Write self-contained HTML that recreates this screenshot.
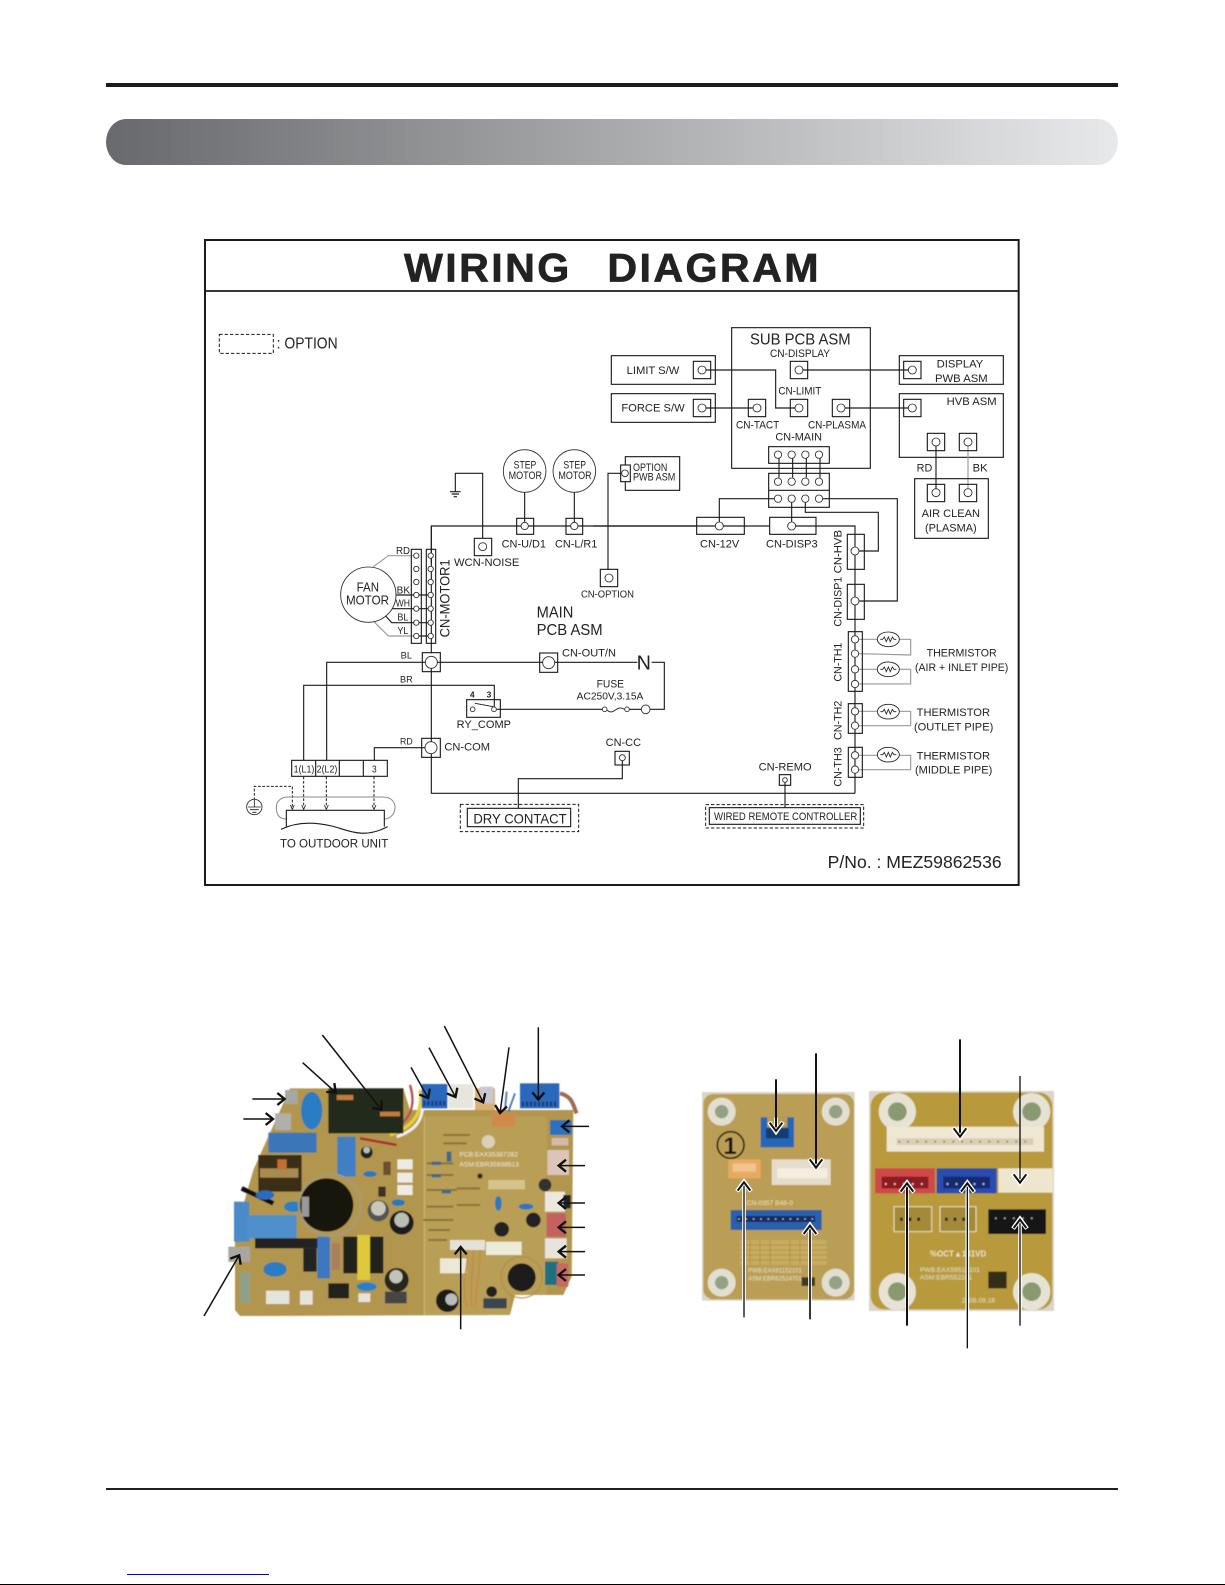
<!DOCTYPE html>
<html><head><meta charset="utf-8"><title>Wiring Diagram</title>
<style>
html,body{margin:0;padding:0;background:#fff;width:1225px;height:1585px;overflow:hidden}
svg{display:block;position:absolute;left:0;top:0}
text{font-family:"Liberation Sans",sans-serif;fill:#222}
.l{fill:none;stroke:#1c1c1c;stroke-width:3.4}
.g{fill:none;stroke:#999;stroke-width:3.4}
.c{fill:#fff;stroke:#2a2a2a;stroke-width:2.6}
.d{fill:none;stroke:#1c1c1c;stroke-width:3;stroke-dasharray:10 6}
</style></head><body>
<svg width="1225" height="1585" viewBox="0 0 1225 1585" xmlns="http://www.w3.org/2000/svg">
<defs>
<linearGradient id="band" x1="0" x2="1" y1="0" y2="0"><stop offset="0" stop-color="#68696c"/><stop offset="1" stop-color="#e8e9eb"/></linearGradient>
<filter id="soft" x="-2%" y="-2%" width="104%" height="104%"><feGaussianBlur stdDeviation="1.6"/></filter>
<marker id="ah" markerUnits="userSpaceOnUse" markerWidth="50" markerHeight="50" refX="34" refY="25" orient="auto"><path d="M11,7 L33,25 L11,43" fill="none" stroke="#111" stroke-width="7"/></marker>
<marker id="ah2" markerUnits="userSpaceOnUse" markerWidth="60" markerHeight="60" refX="42" refY="30" orient="auto"><path d="M13,9 L42,30 L13,51" fill="none" stroke="#fff" stroke-width="13"/><path d="M15,11 L40,30 L15,49" fill="none" stroke="#111" stroke-width="6"/></marker>
<g id="th"><ellipse cx="0" cy="0" rx="33" ry="22" fill="#fff" stroke="#222" stroke-width="2.6"/><polyline points="-24,0 -17,0 -12,-7 -6,7 0,-7 6,7 12,-7 17,0 24,0" fill="none" stroke="#222" stroke-width="2.6"/></g>
</defs>

<rect x="106" y="83" width="1012" height="4" fill="#1c1a1b"/>
<rect x="106" y="119" width="1012" height="46" rx="20" ry="23" fill="url(#band)"/>
<rect x="106" y="1488" width="1012" height="2" fill="#231f20"/>
<rect x="127" y="1574" width="142" height="1" fill="#0000e0"/>
<rect x="0" y="1584" width="1225" height="1" fill="#000"/>

<g transform="translate(200 230) scale(.33333)">
<!-- frame -->
<rect x="15" y="30" width="2441" height="1935" fill="none" stroke="#1c1a1b" stroke-width="6"/>
<line x1="15" y1="183" x2="2456" y2="183" stroke="#1c1a1b" stroke-width="5"/>
<text transform="translate(612 155) scale(1.03 1)" font-size="120" font-weight="700" letter-spacing="7" stroke="#222" stroke-width="2">WIRING</text>
<text transform="translate(1222 155) scale(1.03 1)" font-size="120" font-weight="700" letter-spacing="7" stroke="#222" stroke-width="2">DIAGRAM</text>

<!-- group A -->
<rect x="58" y="313" width="162" height="57" class="d"/>
<text x="230" y="355" font-size="46" textLength="183" lengthAdjust="spacingAndGlyphs">: OPTION</text>
<polyline class="l" points="848,925 848,730 766,730 766,785"/>
<path class="l" d="M750,785H782M755,792H777M761,800H771"/>
<line class="l" x1="974" y1="787" x2="974" y2="877"/>
<line class="l" x1="1123" y1="787" x2="1123" y2="877"/>
<circle class="c" cx="974" cy="723" r="64"/><circle class="c" cx="1123" cy="723" r="64"/>
<text x="941" y="715" font-size="33" textLength="68" lengthAdjust="spacingAndGlyphs">STEP</text>
<text x="926" y="747" font-size="33" textLength="100" lengthAdjust="spacingAndGlyphs">MOTOR</text>
<text x="1090" y="715" font-size="33" textLength="68" lengthAdjust="spacingAndGlyphs">STEP</text>
<text x="1075" y="747" font-size="33" textLength="100" lengthAdjust="spacingAndGlyphs">MOTOR</text>
<polyline class="l" points="694,1000 694,888 1490,888"/>
<rect class="l" x="950" y="865" width="51" height="48"/>
<rect class="l" x="1098" y="865" width="50" height="48"/>
<circle class="c" cx="974" cy="888" r="11"/><circle class="c" cx="1123" cy="888" r="11"/>
<text x="905" y="953" font-size="32" textLength="133" lengthAdjust="spacingAndGlyphs">CN-U/D1</text>
<text x="1065" y="953" font-size="32" textLength="127" lengthAdjust="spacingAndGlyphs">CN-L/R1</text>

<!-- group B -->
<g transform="translate(1200 0)">
<polyline class="l" points="-20,888 346,888"/>
<rect class="l" x="290" y="862" width="143" height="51"/>
<polyline class="l" points="370,888 510,888"/>
<rect class="l" x="509" y="862" width="139" height="51"/>
<polyline class="l" points="588,888 765,888 765,950"/>
<text x="300" y="953" font-size="33" textLength="118" lengthAdjust="spacingAndGlyphs">CN-12V</text>
<text x="498" y="953" font-size="33" textLength="155" lengthAdjust="spacingAndGlyphs">CN-DISP3</text>
<!-- option -->
<polyline class="l" points="62,730 24,730 24,1020"/>
<rect class="l" x="76" y="680" width="163" height="101"/>
<rect x="62" y="705" width="29" height="50" fill="#fff" stroke="#1c1c1c" stroke-width="3.4"/>
<circle class="c" cx="75" cy="730" r="10"/>
<text x="99" y="723" font-size="33" textLength="103" lengthAdjust="spacingAndGlyphs">OPTION</text>
<text x="99" y="752" font-size="33" textLength="127" lengthAdjust="spacingAndGlyphs">PWB ASM</text>
<!-- sub pcb -->
<rect class="l" x="395" y="293" width="416" height="422"/>
<text x="450" y="344" font-size="46" textLength="302" lengthAdjust="spacingAndGlyphs">SUB PCB ASM</text>
<text x="510" y="381" font-size="33" textLength="180" lengthAdjust="spacingAndGlyphs">CN-DISPLAY</text>
<rect class="l" x="34" y="377" width="312" height="86"/>
<rect class="l" x="34" y="491" width="312" height="86"/>
<text x="80" y="432" font-size="33" textLength="158" lengthAdjust="spacingAndGlyphs">LIMIT S/W</text>
<text x="64" y="545" font-size="33" textLength="190" lengthAdjust="spacingAndGlyphs">FORCE S/W</text>
<polyline class="l" points="318,420 527,420 527,534 585,534"/>
<line class="l" x1="318" y1="534" x2="458" y2="534"/>
<line class="l" x1="609" y1="420" x2="925" y2="420"/>
<line class="l" x1="735" y1="534" x2="925" y2="534"/>
<rect class="l" x="280" y="394" width="52" height="52"/><circle class="c" cx="306" cy="420" r="12"/>
<rect class="l" x="280" y="508" width="52" height="52"/><circle class="c" cx="306" cy="534" r="12"/>
<rect class="l" x="571" y="394" width="52" height="52"/><circle class="c" cx="597" cy="420" r="12"/>
<rect class="l" x="571" y="508" width="52" height="52"/><circle class="c" cx="597" cy="534" r="12"/>
<rect class="l" x="445" y="508" width="52" height="52"/><circle class="c" cx="471" cy="534" r="12"/>
<rect class="l" x="697" y="508" width="52" height="52"/><circle class="c" cx="723" cy="534" r="12"/>
<text x="535" y="494" font-size="33" textLength="129" lengthAdjust="spacingAndGlyphs">CN-LIMIT</text>
<text x="408" y="595" font-size="33" textLength="130" lengthAdjust="spacingAndGlyphs">CN-TACT</text>
<text x="624" y="595" font-size="33" textLength="174" lengthAdjust="spacingAndGlyphs">CN-PLASMA</text>
<text x="526" y="632" font-size="33" textLength="140" lengthAdjust="spacingAndGlyphs">CN-MAIN</text>
<!-- display/hvb -->
<rect class="l" x="898" y="377" width="312" height="86"/>
<rect class="l" x="898" y="491" width="312" height="191"/>
<rect class="l" x="911" y="394" width="52" height="52"/><circle class="c" cx="937" cy="420" r="12"/>
<rect class="l" x="911" y="508" width="52" height="52"/><circle class="c" cx="937" cy="534" r="12"/>
<text x="1010" y="413" font-size="33" textLength="140" lengthAdjust="spacingAndGlyphs">DISPLAY</text>
<text x="1005" y="456" font-size="33" textLength="158" lengthAdjust="spacingAndGlyphs">PWB ASM</text>
<text x="1040" y="525" font-size="33" textLength="150" lengthAdjust="spacingAndGlyphs">HVB ASM</text>
<line class="l" x1="1008" y1="648" x2="1008" y2="776"/>
<line class="g" x1="1104" y1="648" x2="1104" y2="776"/>
<rect class="l" x="982" y="610" width="52" height="52"/><circle class="c" cx="1008" cy="636" r="12"/>
<rect class="l" x="1078" y="610" width="52" height="52"/><circle class="c" cx="1104" cy="636" r="12"/>
<text x="950" y="724" font-size="33" textLength="47" lengthAdjust="spacingAndGlyphs">RD</text>
<text x="1118" y="724" font-size="33" textLength="45" lengthAdjust="spacingAndGlyphs">BK</text>
<rect class="l" x="944" y="746" width="221" height="179"/>
<rect class="l" x="982" y="763" width="52" height="52"/><circle class="c" cx="1008" cy="788" r="12"/>
<rect class="l" x="1078" y="763" width="52" height="52"/><circle class="c" cx="1104" cy="788" r="12"/>
<text x="965" y="861" font-size="33" textLength="175" lengthAdjust="spacingAndGlyphs">AIR CLEAN</text>
<text x="975" y="905" font-size="33" textLength="155" lengthAdjust="spacingAndGlyphs">(PLASMA)</text>
<!-- main connectors -->
<path class="l" d="M537,685V743M578,685V743M619,685V743M660,685V743"/>
<rect class="l" x="506" y="650" width="182" height="50"/>
<rect class="l" x="506" y="730" width="182" height="102"/>
<line class="l" x1="506" y1="781" x2="688" y2="781"/>
<polyline class="l" points="522,806 358,806 358,876"/>
<line class="l" x1="575" y1="818" x2="575" y2="876"/>
<polyline class="l" points="616,818 616,847 835,847 835,963 777,963"/>
<polyline class="l" points="669,806 892,806 892,1113 778,1113"/>
<g>
<circle class="c" cx="534" cy="674" r="11"/><circle class="c" cx="575" cy="674" r="11"/><circle class="c" cx="616" cy="674" r="11"/><circle class="c" cx="657" cy="674" r="11"/>
<circle class="c" cx="534" cy="755" r="11"/><circle class="c" cx="575" cy="755" r="11"/><circle class="c" cx="616" cy="755" r="11"/><circle class="c" cx="657" cy="755" r="11"/>
<circle class="c" cx="534" cy="806" r="11"/><circle class="c" cx="575" cy="806" r="11"/><circle class="c" cx="616" cy="806" r="11"/><circle class="c" cx="657" cy="806" r="11"/>
</g>
<circle class="c" cx="358" cy="888" r="12"/>
<circle class="c" cx="575" cy="888" r="12"/>
</g>

<!-- group C -->
<g transform="translate(0 960)">
<line class="l" x1="694" y1="-72" x2="694" y2="310"/>
<path class="g" d="M520,50L565,17H640M565,258L522,215M565,258H640"/>
<path class="l" d="M583,135H684M575,176H684M550,190L575,218H684M640,258H684"/>
<rect class="l" x="634" y="-2" width="30" height="282"/>
<rect class="l" x="679" y="-2" width="28" height="282"/>
<g>
<circle class="c" cx="649" cy="17" r="8"/><circle class="c" cx="649" cy="57" r="8"/><circle class="c" cx="649" cy="96" r="8"/><circle class="c" cx="649" cy="135" r="8"/><circle class="c" cx="649" cy="176" r="8"/><circle class="c" cx="649" cy="218" r="8"/><circle class="c" cx="649" cy="258" r="8"/>
<circle class="c" cx="692" cy="17" r="8"/><circle class="c" cx="692" cy="57" r="8"/><circle class="c" cx="692" cy="96" r="8"/><circle class="c" cx="692" cy="135" r="8"/><circle class="c" cx="692" cy="176" r="8"/><circle class="c" cx="692" cy="218" r="8"/><circle class="c" cx="692" cy="258" r="8"/>
</g>
<circle cx="505" cy="134" r="83" fill="#fff" stroke="#2a2a2a" stroke-width="2.6"/>
<text x="470" y="124" font-size="38" textLength="67" lengthAdjust="spacingAndGlyphs">FAN</text>
<text x="438" y="163" font-size="38" textLength="129" lengthAdjust="spacingAndGlyphs">MOTOR</text>
<text x="588" y="12" font-size="30" textLength="42" lengthAdjust="spacingAndGlyphs">RD</text>
<text x="590" y="130" font-size="30" textLength="40" lengthAdjust="spacingAndGlyphs">BK</text>
<text x="587" y="170" font-size="30" textLength="43" lengthAdjust="spacingAndGlyphs">WH</text>
<text x="592" y="212" font-size="30" textLength="33" lengthAdjust="spacingAndGlyphs">BL</text>
<text x="592" y="252" font-size="30" textLength="33" lengthAdjust="spacingAndGlyphs">YL</text>
<text transform="translate(748 262) rotate(-90)" font-size="42" textLength="234" lengthAdjust="spacingAndGlyphs">CN-MOTOR1</text>
<rect class="l" x="823" y="-35" width="52" height="52"/><circle class="c" cx="848" cy="-10" r="12"/>
<text x="762" y="48" font-size="33" textLength="196" lengthAdjust="spacingAndGlyphs">WCN-NOISE</text>
<rect class="l" x="1201" y="58" width="52" height="52"/><circle class="c" cx="1227" cy="84" r="12"/>
<text x="1143" y="143" font-size="30" textLength="159" lengthAdjust="spacingAndGlyphs">CN-OPTION</text>
<text x="1010" y="203" font-size="46" textLength="110" lengthAdjust="spacingAndGlyphs">MAIN</text>
<text x="1010" y="255" font-size="46" textLength="198" lengthAdjust="spacingAndGlyphs">PCB ASM</text>
<polyline class="l" points="380,630 380,337 1312,337"/>
<polyline class="l" points="311,630 311,406 883,406 883,470"/>
<polyline class="l" points="523,630 523,593 675,593"/>
<polyline class="l" points="694,355 694,730 1965,730"/>
<polyline class="l" points="955,775 955,686 1267,686 1267,633"/>
<rect class="l" x="667" y="308" width="54" height="57"/><circle class="c" cx="694" cy="337" r="18"/>
<rect class="l" x="665" y="565" width="56" height="57"/><circle class="c" cx="693" cy="593" r="18"/>
<rect class="l" x="1019" y="309" width="54" height="58"/><circle class="c" cx="1046" cy="338" r="18"/>
<text x="602" y="326" font-size="27" textLength="34" lengthAdjust="spacingAndGlyphs">BL</text>
<text x="600" y="398" font-size="27" textLength="38" lengthAdjust="spacingAndGlyphs">BR</text>
<text x="600" y="583" font-size="27" textLength="38" lengthAdjust="spacingAndGlyphs">RD</text>
<text x="733" y="602" font-size="33" textLength="137" lengthAdjust="spacingAndGlyphs">CN-COM</text>
<text x="1086" y="320" font-size="33" textLength="162" lengthAdjust="spacingAndGlyphs">CN-OUT/N</text>
<rect class="l" x="800" y="449" width="101" height="53"/>
<text x="810" y="442" font-size="26" font-weight="700" textLength="14" lengthAdjust="spacingAndGlyphs">4</text>
<text x="860" y="442" font-size="26" font-weight="700" textLength="14" lengthAdjust="spacingAndGlyphs">3</text>
<line class="l" x1="825" y1="460" x2="880" y2="470" style="stroke-width:2.5"/>
<line class="l" x1="890" y1="478" x2="1207" y2="478"/>
<circle class="c" cx="818" cy="478" r="7"/><circle class="c" cx="882" cy="478" r="7"/>
<text x="770" y="534" font-size="33" textLength="163" lengthAdjust="spacingAndGlyphs">RY_COMP</text>
<text x="1190" y="413" font-size="33" textLength="82" lengthAdjust="spacingAndGlyphs">FUSE</text>
<text x="1130" y="449" font-size="30" textLength="200" lengthAdjust="spacingAndGlyphs">AC250V,3.15A</text>
<!-- terminal -->
<path class="d" d="M311,680V770M379,680V770M522,680V770M163,750V709H277V770" style="stroke-dasharray:8 5"/>
<path class="l" d="M305,765L311,778L317,765M373,765L379,778L385,765M516,765L522,778L528,765M271,765L277,778L283,765" style="stroke-width:2.5"/>
<rect x="275" y="631" width="287" height="48" fill="#fff" stroke="#1c1c1c" stroke-width="3.4"/>
<path class="l" d="M347,631V679M418,631V679M490,631V679"/>
<text x="281" y="668" font-size="30" textLength="62" lengthAdjust="spacingAndGlyphs">1(L1)</text>
<text x="350" y="668" font-size="30" textLength="62" lengthAdjust="spacingAndGlyphs">2(L2)</text>
<text x="516" y="668" font-size="30" textLength="14" lengthAdjust="spacingAndGlyphs">3</text>
<circle class="c" cx="163" cy="771" r="23"/>
<path class="l" d="M163,750V771M144,771H182M150,779H176M157,787H169" style="stroke-width:2.5"/>
<path d="M259,807C235,807 229,790 229,772C229,752 245,741 265,741H550C572,741 585,755 585,772C585,790 572,807 553,807" fill="none" stroke="#888" stroke-width="3"/>
<path class="l" d="M259,830V781H553V830"/>
<path class="l" d="M243,838C290,815 340,815 395,828C450,842 490,868 563,830"/>
<text x="240" y="893" font-size="35" textLength="325" lengthAdjust="spacingAndGlyphs">TO OUTDOOR UNIT</text>
<!-- dry contact -->
<rect class="d" x="781" y="763" width="355" height="82"/>
<rect x="802" y="775" width="310" height="55" fill="#fff" stroke="#1c1c1c" stroke-width="3.4"/>
<text x="820" y="820" font-size="42" textLength="280" lengthAdjust="spacingAndGlyphs">DRY CONTACT</text>
</g>

<!-- group D -->
<g transform="translate(1200 960)">
<line class="l" x1="765" y1="-10" x2="765" y2="730"/>
<rect x="742" y="-47" width="51" height="105" class="l"/>
<rect x="742" y="103" width="51" height="105" class="l"/>
<circle class="c" cx="765" cy="3" r="12"/><circle class="c" cx="765" cy="153" r="12"/>
<text transform="translate(724 70) rotate(-90)" font-size="33" textLength="130" lengthAdjust="spacingAndGlyphs">CN-HVB</text>
<text transform="translate(724 230) rotate(-90)" font-size="33" textLength="150" lengthAdjust="spacingAndGlyphs">CN-DISP1</text>
<text transform="translate(724 395) rotate(-90)" font-size="33" textLength="117" lengthAdjust="spacingAndGlyphs">CN-TH1</text>
<text transform="translate(724 570) rotate(-90)" font-size="33" textLength="118" lengthAdjust="spacingAndGlyphs">CN-TH2</text>
<text transform="translate(724 710) rotate(-90)" font-size="33" textLength="118" lengthAdjust="spacingAndGlyphs">CN-TH3</text>
<path class="g" d="M777,268H932V315L777,311M777,358H932V402H777M777,484H932V527H777M777,616H932V659H777"/>
<rect class="l" x="745" y="245" width="42" height="179"/>
<rect class="l" x="745" y="461" width="42" height="89"/>
<rect class="l" x="745" y="592" width="42" height="90"/>
<g>
<circle class="c" cx="765" cy="268" r="11"/><circle class="c" cx="765" cy="311" r="11"/><circle class="c" cx="765" cy="358" r="11"/><circle class="c" cx="765" cy="402" r="11"/>
<circle class="c" cx="765" cy="484" r="11"/><circle class="c" cx="765" cy="527" r="11"/>
<circle class="c" cx="765" cy="616" r="11"/><circle class="c" cx="765" cy="659" r="11"/>
</g>
<use href="#th" x="865" y="268"/><use href="#th" x="865" y="358"/><use href="#th" x="865" y="485"/><use href="#th" x="865" y="614"/>
<text x="980" y="320" font-size="33" textLength="210" lengthAdjust="spacingAndGlyphs">THERMISTOR</text>
<text x="945" y="363" font-size="33" textLength="280" lengthAdjust="spacingAndGlyphs">(AIR + INLET PIPE)</text>
<text x="950" y="498" font-size="33" textLength="220" lengthAdjust="spacingAndGlyphs">THERMISTOR</text>
<text x="942" y="541" font-size="33" textLength="238" lengthAdjust="spacingAndGlyphs">(OUTLET PIPE)</text>
<text x="950" y="628" font-size="33" textLength="220" lengthAdjust="spacingAndGlyphs">THERMISTOR</text>
<text x="945" y="671" font-size="33" textLength="232" lengthAdjust="spacingAndGlyphs">(MIDDLE PIPE)</text>
<text x="110" y="358" font-size="60" textLength="43" lengthAdjust="spacingAndGlyphs">N</text>
<polyline class="l" points="155,337 193,337 193,478 150,478"/>
<line class="l" x1="88" y1="478" x2="124" y2="478"/>
<path class="l" d="M21,480C40,500 50,462 73,478" style="stroke-width:2.6"/>
<circle class="c" cx="14" cy="478" r="7"/><circle class="c" cx="81" cy="478" r="7"/><circle class="c" cx="137" cy="478" r="13"/>
<rect class="l" x="45" y="604" width="43" height="41"/><circle class="c" cx="67" cy="623" r="9"/>
<text x="17" y="588" font-size="33" textLength="106" lengthAdjust="spacingAndGlyphs">CN-CC</text>
<line class="l" x1="555" y1="698" x2="555" y2="775"/>
<rect class="l" x="538" y="674" width="34" height="32"/><circle class="c" cx="555" cy="690" r="7"/>
<text x="476" y="662" font-size="33" textLength="159" lengthAdjust="spacingAndGlyphs">CN-REMO</text>
<rect class="d" x="317" y="764" width="474" height="70"/>
<rect x="328" y="773" width="453" height="50" fill="#fff" stroke="#1c1c1c" stroke-width="3.4"/>
<text x="342" y="810" font-size="32" textLength="430" lengthAdjust="spacingAndGlyphs">WIRED REMOTE CONTROLLER</text>
<text x="683" y="954" font-size="52" textLength="522" lengthAdjust="spacingAndGlyphs">P/No. : MEZ59862536</text>
</g>
</g>

<!-- main PCB photo -->
<g transform="translate(190 1020) scale(.33333)">
<g filter="url(#soft)">
<polygon points="300,205 640,205 660,270 1150,270 1145,770 1120,825 975,825 960,885 150,888 135,870 135,640 190,450" fill="#b3964e"/>
<rect x="705" y="290" width="365" height="535" fill="#bda35c" opacity=".6"/>
<rect x="705" y="825" width="255" height="60" fill="#bda35c" opacity=".6"/>
<path d="M703,290V885" stroke="#d4bc78" stroke-width="3"/>
<!-- wires -->
<path d="M690,210C700,280 670,320 600,345" stroke="#e8d030" stroke-width="10" fill="none"/>
<path d="M700,235C700,300 680,330 620,350" stroke="#eee" stroke-width="9" fill="none"/>
<path d="M660,195C680,260 660,310 590,335" stroke="#b05050" stroke-width="7" fill="none"/>
<path d="M510,355L620,375" stroke="#a33" stroke-width="8" fill="none"/>
<!-- tabs -->
<rect x="285" y="210" width="38" height="42" fill="#a8a8a0"/><rect x="255" y="280" width="48" height="50" fill="#b0b0a8"/><rect x="115" y="680" width="65" height="46" fill="#a8a8a0"/>
<ellipse cx="365" cy="272" rx="32" ry="56" fill="#2a7cc4"/>
<rect x="415" y="205" width="225" height="135" fill="#24291f"/>
<rect x="440" y="225" width="50" height="15" fill="#c57a40"/><rect x="570" y="275" width="60" height="14" fill="#c57a40"/>
<rect x="235" y="338" width="145" height="60" fill="#3b77b8"/>
<rect x="442" y="350" width="55" height="120" fill="#3f7fc4"/>
<rect x="132" y="545" width="46" height="120" fill="#4a8ac8"/>
<rect x="170" y="585" width="150" height="70" fill="#4f8fcb"/>
<rect x="195" y="655" width="190" height="30" fill="#222"/><rect x="340" y="685" width="40" height="70" fill="#222"/>
<rect x="382" y="650" width="38" height="125" fill="#3a78c0"/>
<rect x="205" y="405" width="130" height="110" fill="#3a2e18"/><rect x="210" y="445" width="115" height="28" fill="#a98a50"/><rect x="262" y="418" width="28" height="30" fill="#c07030"/>
<path d="M155,505L250,550" stroke="#111" stroke-width="14"/><ellipse cx="225" cy="525" rx="28" ry="14" fill="#2a6cbc"/><ellipse cx="310" cy="560" rx="28" ry="16" fill="#2a80c4"/>
<circle cx="420" cy="555" r="92" fill="none" stroke="#a89a70" stroke-width="8"/>
<circle cx="410" cy="555" r="80" fill="#14130f"/><rect x="335" y="530" width="22" height="60" fill="#999"/>
<circle cx="565" cy="572" r="32" fill="#555"/><circle cx="565" cy="565" r="22" fill="#c8c8b8"/>
<circle cx="635" cy="608" r="36" fill="#1d1d1a"/><circle cx="635" cy="600" r="22" fill="#bcc0b4"/>
<ellipse cx="625" cy="548" rx="20" ry="10" fill="#2a78c0"/>
<rect x="622" y="418" width="46" height="30" fill="#ecece4"/><rect x="622" y="458" width="46" height="30" fill="#ecece4"/><rect x="622" y="495" width="46" height="30" fill="#ecece4"/>
<circle cx="530" cy="397" r="18" fill="#222"/><circle cx="530" cy="390" r="10" fill="#bbb"/><ellipse cx="540" cy="462" rx="20" ry="9" fill="#2a78c0"/>
<rect x="460" y="650" width="120" height="110" fill="#23221c"/><rect x="502" y="645" width="38" height="135" fill="#e0c83c"/>
<rect x="425" y="670" width="25" height="80" fill="#a88060"/>
<ellipse cx="255" cy="748" rx="35" ry="22" fill="#2a7cc4"/><ellipse cx="530" cy="800" rx="30" ry="13" fill="#2a80c8"/>
<rect x="228" y="812" width="70" height="40" fill="#e4e4dc"/><rect x="330" y="812" width="38" height="42" fill="#e4e4dc"/>
<rect x="505" y="820" width="36" height="26" fill="#e4e4dc"/>
<rect x="415" y="790" width="62" height="45" fill="#22221e"/>
<rect x="150" y="755" width="30" height="95" rx="10" fill="#8fa088"/>
<circle cx="620" cy="780" r="36" fill="#27261f"/><circle cx="618" cy="770" r="20" fill="#c0c4bc"/>
<rect x="585" y="815" width="65" height="35" fill="#444"/>
<circle cx="772" cy="842" r="34" fill="#1a1a18"/><circle cx="784" cy="838" r="18" fill="#bbb"/>
<rect x="880" y="835" width="70" height="30" fill="#3a4450"/><circle cx="905" cy="815" r="16" fill="#222"/>
<circle cx="995" cy="772" r="42" fill="#1c1c1a"/><circle cx="995" cy="772" r="62" fill="none" stroke="#a98c48" stroke-width="3"/>
<circle cx="935" cy="628" r="22" fill="#222"/><circle cx="1030" cy="600" r="22" fill="#222"/><circle cx="1065" cy="495" r="19" fill="#333"/>
<ellipse cx="925" cy="550" rx="10" ry="22" fill="#2a78c0"/><ellipse cx="1008" cy="560" rx="22" ry="9" fill="#2a78c0"/>
<!-- top connectors -->
<rect x="695" y="192" width="77" height="73" fill="#2a68bc"/><path d="M700,250H768" stroke="#173a70" stroke-width="14" stroke-dasharray="6 6"/>
<rect x="775" y="192" width="75" height="73" fill="#e8e6dc"/>
<rect x="855" y="205" width="60" height="65" fill="#d8b070"/><rect x="870" y="200" width="40" height="50" fill="#c8c8d0"/><rect x="905" y="278" width="70" height="42" fill="#cf8a4a"/>
<path d="M950,215L945,270M975,220L955,275" stroke="#3a6ab0" stroke-width="5"/>
<rect x="990" y="190" width="118" height="75" fill="#2a68bc"/><path d="M996,252H1102" stroke="#173a70" stroke-width="14" stroke-dasharray="6 6"/>
<path d="M1110,220C1150,230 1150,260 1160,280" stroke="#a06a50" stroke-width="12" fill="none"/>
<rect x="1080" y="300" width="65" height="45" fill="#2d70c0"/>
<rect x="1072" y="390" width="65" height="75" fill="#ddc4b8"/><path d="M1085,365H1135" stroke="#d8b8a8" stroke-width="22"/>
<rect x="1065" y="515" width="60" height="60" fill="#ece8e0"/><rect x="1120" y="525" width="22" height="40" fill="#222"/>
<rect x="1070" y="580" width="58" height="70" fill="#c46060"/>
<rect x="1065" y="655" width="65" height="60" fill="#e8e4dc"/>
<rect x="1065" y="725" width="40" height="70" fill="#1c7080"/><rect x="1100" y="730" width="35" height="70" fill="#c86860"/>
<rect x="780" y="660" width="105" height="30" fill="#e4e2d8"/><rect x="888" y="665" width="107" height="40" fill="#ecead8"/><rect x="750" y="715" width="80" height="45" fill="#ece8d8"/>
<path d="M830,690C840,730 810,780 830,860M850,690C850,740 840,790 845,860M870,690C870,750 860,800 855,860" stroke="#c88840" stroke-width="4" fill="none"/>
<!-- components -->
<path d="M710,430H790M710,465H790M710,510H800M710,560H790M700,600H790M715,630H780M715,660H770M800,555H870M800,505H870M760,345H840M760,370H830" stroke="#8a7238" stroke-width="6" fill="none"/>
<rect x="725" y="425" width="28" height="10" fill="#3a6a90"/><rect x="725" y="462" width="28" height="10" fill="#3a6a90"/><rect x="755" y="510" width="28" height="10" fill="#3a6a90"/><rect x="770" y="395" width="14" height="30" fill="#3a6a90"/>
<rect x="580" y="425" width="22" height="40" fill="#6a5030"/><rect x="565" y="500" width="22" height="30" fill="#3a3020"/>
<circle cx="895" cy="365" r="20" fill="#d8d0b8"/>
<rect x="895" y="480" width="110" height="28" fill="#d4c48c"/><circle cx="870" cy="468" r="8" fill="#3a2a18"/>
<text x="808" y="410" font-size="20" style="fill:#efe8d0">PCB:EAX35387282</text>
<text x="808" y="440" font-size="20" style="fill:#efe8d0">ASM:EBR35938513</text>
</g>
<g fill="none" stroke="#111" stroke-width="4.5" marker-end="url(#ah)">
<path d="M397,45L575,270"/><path d="M338,128L438,218"/><path d="M187,237H285"/><path d="M160,297H250"/><path d="M42,888L148,705"/>
<path d="M663,142L715,235"/><path d="M717,83L797,232"/><path d="M763,18L880,248"/><path d="M957,82L930,280"/><path d="M1045,22V240"/>
<path d="M1197,319H1115"/><path d="M1185,437H1105"/><path d="M1185,549H1105"/><path d="M1185,622H1105"/><path d="M1185,695H1105"/><path d="M1185,765H1105"/><path d="M812,928V680"/>
</g>
</g>

<!-- sub PCB photos -->
<g transform="translate(690 1030) scale(.33333)">
<g filter="url(#soft)">
<rect x="36" y="186" width="458" height="626" fill="#d8d6c8"/>
<rect x="40" y="192" width="452" height="616" rx="30" fill="#bb9e54"/>
<g fill="#e2dfd0"><circle cx="95" cy="245" r="42"/><circle cx="437" cy="245" r="42"/><circle cx="95" cy="758" r="42"/><circle cx="437" cy="758" r="42"/></g>
<g fill="#93a184"><circle cx="95" cy="245" r="20"/><circle cx="437" cy="245" r="20"/><circle cx="95" cy="758" r="20"/><circle cx="437" cy="758" r="20"/></g>
<circle cx="122" cy="345" r="40" fill="none" stroke="#1a1a14" stroke-width="5"/>
<text x="100" y="372" font-size="72" font-weight="700" style="fill:#14140f">1</text>
<rect x="212" y="262" width="100" height="90" fill="#2566b8"/><rect x="232" y="262" width="60" height="30" fill="#bb9e54"/><rect x="228" y="295" width="68" height="30" fill="#173a70"/>
<rect x="115" y="388" width="97" height="57" fill="#e8aa62"/><rect x="128" y="400" width="70" height="25" fill="#f0c48c"/>
<rect x="245" y="388" width="177" height="77" fill="#e6dccb"/><rect x="262" y="415" width="150" height="30" fill="#f4ede0"/>
<rect x="122" y="540" width="273" height="60" fill="#2a5fae"/><rect x="140" y="558" width="235" height="18" fill="#152f60"/>
<path d="M145,567H372" stroke="#ddd" stroke-width="4" stroke-dasharray="4 18"/>
<rect x="150" y="630" width="260" height="75" fill="#c8ac60"/>
<g stroke="#a58a40" stroke-width="2"><path d="M150,645H410M150,660H410M150,675H410M150,690H410M180,630V705M210,630V705M240,630V705M300,630V705M330,630V705M360,630V705"/></g>
<rect x="335" y="742" width="40" height="26" fill="#3a3a2a"/>
<text x="170" y="525" font-size="20" style="fill:#e8e0c0">CN-0357 B46-0</text>
<text x="175" y="728" font-size="18" style="fill:#e8e0c0">PWB:EAX61152101</text>
<text x="175" y="752" font-size="18" style="fill:#e8e0c0">ASM:EBR62524701</text>

<rect x="537" y="183" width="555" height="660" fill="#d8d6c8"/>
<rect x="542" y="188" width="545" height="650" rx="40" fill="#b89a3c"/>
<g fill="#e6e3d4"><circle cx="622" cy="245" r="56"/><circle cx="1025" cy="245" r="56"/><circle cx="622" cy="785" r="56"/><circle cx="1025" cy="785" r="56"/></g>
<g fill="#8a9a70"><circle cx="622" cy="245" r="28"/><circle cx="1025" cy="245" r="28"/><circle cx="622" cy="785" r="28"/><circle cx="1025" cy="785" r="28"/></g>
<rect x="590" y="290" width="472" height="75" fill="#efe7d2"/><rect x="620" y="325" width="410" height="20" fill="#d8cfb4"/>
<path d="M625,335H1025" stroke="#8a8468" stroke-width="6" stroke-dasharray="5 22"/>
<rect x="555" y="415" width="180" height="75" fill="#d04848"/><rect x="575" y="440" width="140" height="35" fill="#8a1f24"/>
<path d="M585,462H710" stroke="#f0d8d0" stroke-width="5" stroke-dasharray="5 22"/>
<rect x="740" y="415" width="180" height="75" fill="#2a4cb0"/><rect x="760" y="440" width="140" height="35" fill="#162a70"/>
<path d="M770,462H895" stroke="#d8dcf0" stroke-width="5" stroke-dasharray="5 22"/>
<rect x="925" y="415" width="163" height="73" fill="#efe6d0"/>
<rect x="895" y="538" width="173" height="74" fill="#141414"/>
<path d="M915,565H1050" stroke="#aaa" stroke-width="5" stroke-dasharray="5 22"/>
<rect x="612" y="530" width="113" height="75" fill="#a48a38" stroke="#e8dfc0" stroke-width="3"/>
<rect x="750" y="530" width="108" height="75" fill="#a48a38" stroke="#e8dfc0" stroke-width="3"/>
<path d="M630,568H700M765,568H830" stroke="#222" stroke-width="10" stroke-dasharray="8 18"/>
<rect x="895" y="725" width="55" height="50" fill="#342e14"/>
<text x="720" y="680" font-size="24" font-weight="700" style="fill:#e8e0c0">%OCT▲141VD</text>
<text x="690" y="726" font-size="20" style="fill:#e8e0c0">PWB:EAX59518101</text>
<text x="690" y="748" font-size="20" style="fill:#e8e0c0">ASM:EBR552241</text>
<text x="815" y="818" font-size="20" style="fill:#e8e0c0">2008.09.18</text>
</g>
<g fill="none" stroke="#fff" stroke-width="11">
<path d="M162,862V465M360,868V595M651,887V468M832,955V468M990,887V577M258,262V300M378,388V410M810,290V315M990,415V452"/>
</g>
<g fill="none" stroke="#111" marker-end="url(#ah2)">
<path d="M258,148V305" stroke-width="6"/><path d="M378,70V415" stroke-width="6"/><path d="M162,862V455" stroke-width="4"/><path d="M360,868V585" stroke-width="5"/>
<path d="M810,28V322" stroke-width="6"/><path d="M990,138V460" stroke-width="4"/><path d="M651,887V458" stroke-width="6"/><path d="M832,955V458" stroke-width="4"/><path d="M990,887V567" stroke-width="4"/>
</g>
</g>
</svg>
</body></html>
